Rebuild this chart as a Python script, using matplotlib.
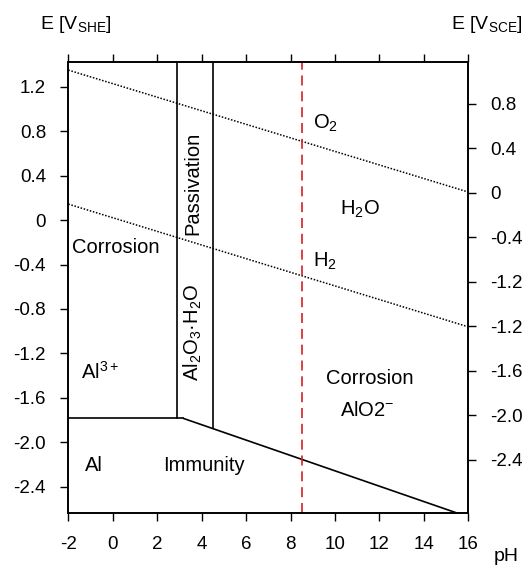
import matplotlib
matplotlib.use("Agg")
from matplotlib import pyplot as plt
import numpy as np

plt.rcParams["font.family"] = ["Liberation Sans", "DejaVu Sans"]
plt.rcParams["mathtext.fontset"] = "custom"
plt.rcParams["mathtext.rm"] = "Liberation Sans"
plt.rcParams["axes.unicode_minus"] = False

# axis ranges and ticks
ph_lim = (-2, 16)
e_lim = (-2.64, 1.42)
ph_ticks = [-2, 0, 2, 4, 6, 8, 10, 12, 14, 16]
she_ticks = [1.2, 0.8, 0.4, 0, -0.4, -0.8, -1.2, -1.6, -2.0, -2.4]
she_labels = ["1.2", "0.8", "0.4", "0", "-0.4", "-0.8", "-1.2", "-1.6", "-2.0", "-2.4"]
sce_offset = 0.245
sce_ticks = [0.8, 0.4, 0, -0.4, -0.8, -1.2, -1.6, -2.0, -2.4]
sce_labels = ["0.8", "0.4", "0", "-0.4", "-1.2", "-1.2", "-1.6", "-2.0", "-2.4"]

# boundaries (pH, E_SHE)
al3_al_ph = [-2, 2.9, 3.18]
al3_al_e = [-1.785, -1.785, -1.785]
alo2_al_ph = [3.18, 15.54]
alo2_al_e = [-1.785, -2.64]
pass_left_ph = [2.9, 2.9]
pass_left_e = [1.42, -1.785]
pass_right_ph = [4.5, 4.5]
pass_right_e = [1.42, -1.875]
o2_ph = [-2, 16]
o2_e = [1.350, 0.252]
h2_ph = [-2, 16]
h2_e = [0.144, -0.961]
marker_ph = 8.5

fig = plt.figure(figsize=(5.28, 5.68), dpi=100)
ax = fig.add_axes([0.1294, 0.0961, 0.7576, 0.7942])

ax.plot(al3_al_ph, al3_al_e, color="black", lw=1.2)
ax.plot(alo2_al_ph, alo2_al_e, color="black", lw=1.2)
ax.plot(pass_left_ph, pass_left_e, color="black", lw=1.2)
ax.plot(pass_right_ph, pass_right_e, color="black", lw=1.2)
ax.plot(o2_ph, o2_e, color="black", lw=1.1, linestyle=(0, (1, 1.1)))
ax.plot(h2_ph, h2_e, color="black", lw=1.1, linestyle=(0, (1, 1.1)))
ax.axvline(marker_ph, color="#d62020", lw=1.2, linestyle=(0, (6, 3.5)))

ax.set_xlim(ph_lim)
ax.set_ylim(e_lim)
ax.set_xticks(ph_ticks)
ax.set_yticks(she_ticks)
ax.set_yticklabels(she_labels)
ax.tick_params(direction="out", length=6, width=1, labelsize=13.5, pad=10,
               top=True, right=False)
for s in ax.spines.values():
    s.set_linewidth(1.2)

ax2 = ax.twinx()
ax2.set_ylim(e_lim)
ax2.set_yticks([v + sce_offset for v in sce_ticks])
ax2.set_yticklabels(sce_labels)
ax2.tick_params(direction="out", length=6, width=1, labelsize=13.5, pad=10)
for s in ax2.spines.values():
    s.set_linewidth(1.2)

fs = 14.5
ax.text(0.15, -0.25, "Corrosion", fontsize=fs, ha="center", va="center")
ax.text(-0.57, -1.37, "Al$^\\mathregular{3+}$", fontsize=fs, ha="center", va="center")
ax.text(-0.84, -2.21, "Al", fontsize=fs, ha="center", va="center")
ax.text(4.08, -2.21, "Immunity", fontsize=fs, ha="center", va="center")
ax.text(3.62, 0.33, "Passivation", fontsize=fs, ha="center", va="center", rotation=90)
ax.text(3.62, -1.01, "Al$_\\mathregular{2}$O$_\\mathregular{3}$\u00b7H$_\\mathregular{2}$O",
        fontsize=fs, ha="center", va="center", rotation=90)
ax.text(9.58, 0.87, "O$_\\mathregular{2}$", fontsize=fs, ha="center", va="center")
ax.text(11.11, 0.096, "H$_\\mathregular{2}$O", fontsize=fs, ha="center", va="center")
ax.text(9.54, -0.375, "H$_\\mathregular{2}$", fontsize=fs, ha="center", va="center")
ax.text(11.58, -1.425, "Corrosion", fontsize=fs, ha="center", va="center")
ax.text(11.43, -1.71, "AlO2$^\\mathregular{-}$", fontsize=fs, ha="center", va="center")

fig.text(0.143, 0.956, "E [V$_\\mathregular{SHE}$]", fontsize=14, ha="center", va="center")
fig.text(0.922, 0.956, "E [V$_\\mathregular{SCE}$]", fontsize=14, ha="center", va="center")
fig.text(0.958, 0.0194, "pH", fontsize=14, ha="center", va="center")

fig.savefig("out.png", dpi=100)
